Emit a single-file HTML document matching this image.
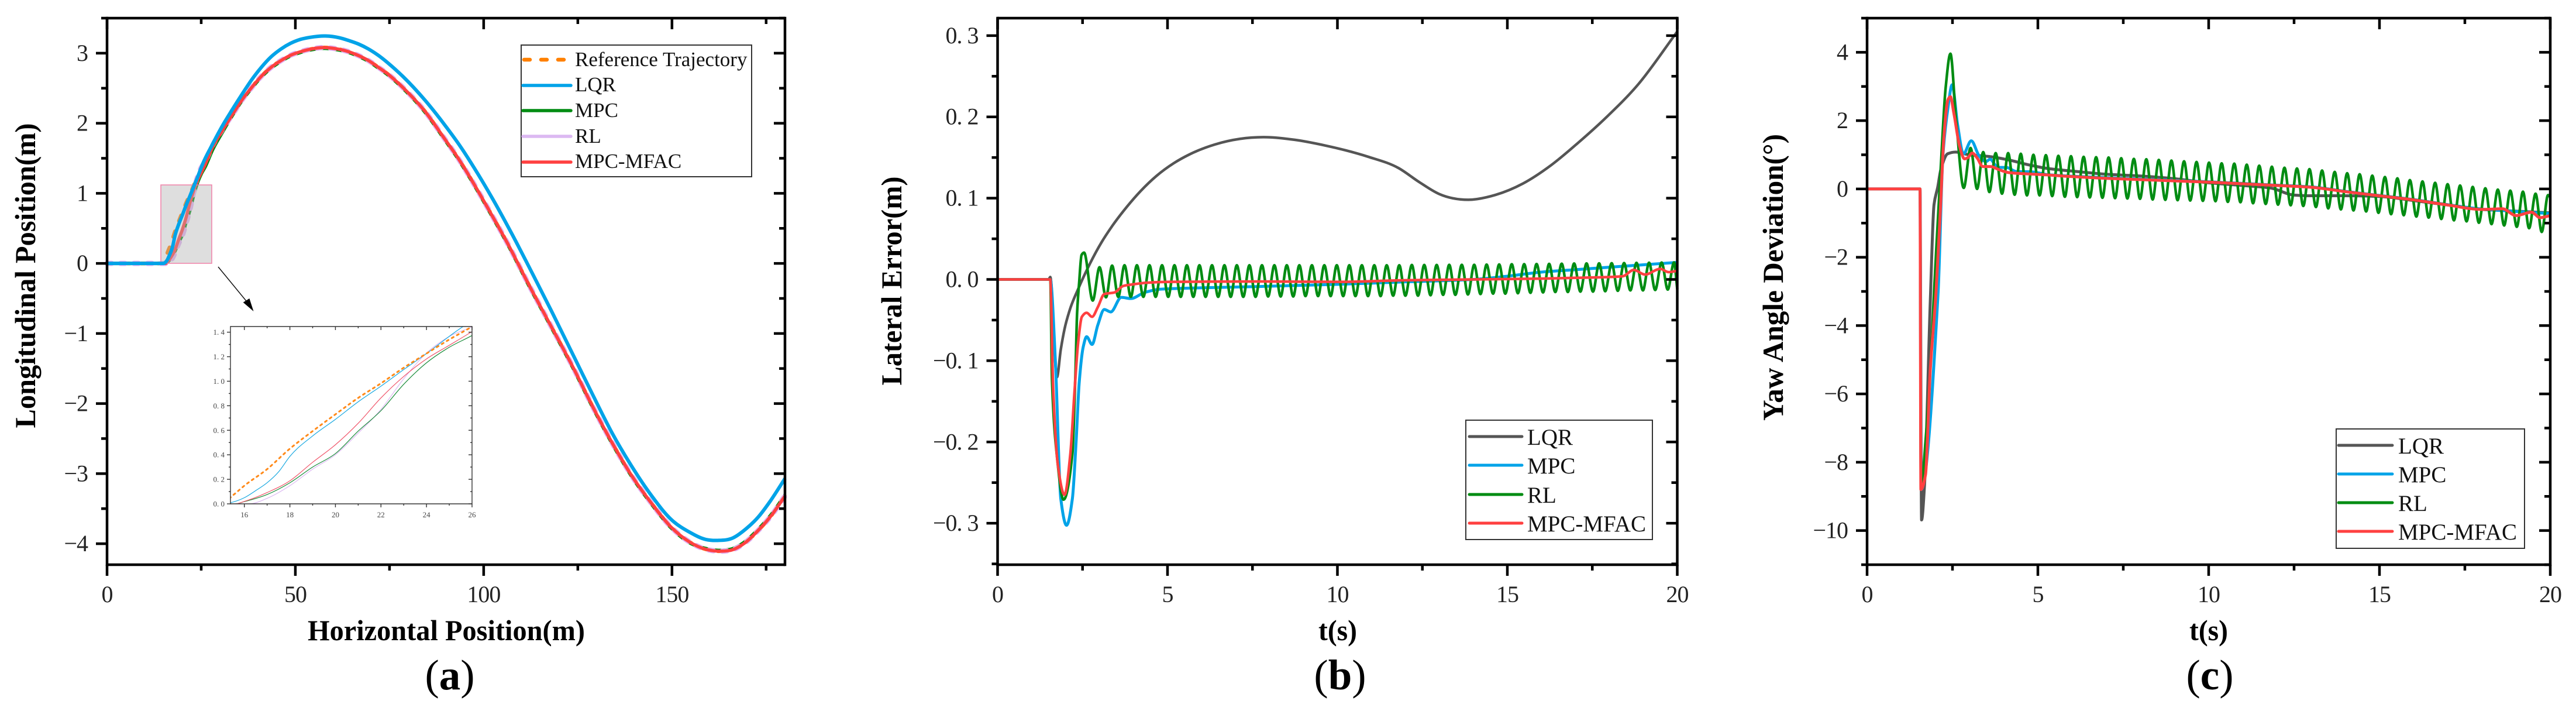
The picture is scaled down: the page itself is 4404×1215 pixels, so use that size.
<!DOCTYPE html>
<html lang="en">
<head>
<meta charset="utf-8">
<title>Trajectory tracking comparison</title>
<style>
html,body{margin:0;padding:0;background:#fff;width:4404px;height:1215px;overflow:hidden;}
svg{display:block;overflow:hidden;position:absolute;left:0;top:0;}
text{font-family:"Liberation Serif",serif;fill:#1a1a1a;}
.title{font-weight:bold;font-size:50px;fill:#000;}
.tick{font-size:40px;fill:#222;letter-spacing:-1px;}
.legend{font-size:35px;fill:#111;}
.legend2{font-size:39px;fill:#111;}
.cap{font-size:73px;fill:#000;}
.inset-tick{font-size:13px;fill:#444;}
</style>
</head>
<body>
<svg id="figure" xmlns="http://www.w3.org/2000/svg" width="4404" height="1215" viewBox="0 0 4404 1215">
  <defs>
    <clipPath id="inset-clip"><rect x="394" y="558" width="413" height="303"/></clipPath>
  </defs>

  <g id="panel-a">
    <g id="a-series"></g>
    <rect x="275" y="316" width="87" height="134" fill="#b0b0b0" fill-opacity="0.42" stroke="#f080a8" stroke-width="1.5"/>
    <g id="a-series-top"></g>
    <g id="a-axes"></g>
    <line x1="373" y1="456" x2="424" y2="518" stroke="#111" stroke-width="1.5"/>
    <polygon points="433.5,532 415.7,516.7 426.4,510" fill="#000"/>
    <g id="inset">
      <rect x="394" y="558" width="413" height="303" fill="#fff"/>
      <g id="inset-series" clip-path="url(#inset-clip)"></g>
      <g id="inset-axes"></g>
    </g>
    <text class="title" x="763" y="1094" text-anchor="middle" textLength="474" lengthAdjust="spacingAndGlyphs">Horizontal Position(m)</text>
    <text class="title" transform="translate(60,471) rotate(-90)" text-anchor="middle" textLength="521" lengthAdjust="spacingAndGlyphs">Longitudinal Position(m)</text>
    <g>
      <rect x="891" y="77" width="394" height="225" fill="#fff" stroke="#333" stroke-width="2"/>
      <line x1="896" y1="102" x2="968" y2="102" stroke="#ff8000" stroke-width="6.5" stroke-linecap="round" stroke-dasharray="10 19"/>
      <text class="legend" x="983" y="113">Reference Trajectory</text>
      <line x1="894" y1="146" x2="976" y2="146" stroke="#00a3e8" stroke-width="5.5" stroke-linecap="round"/>
      <text class="legend" x="983" y="156">LQR</text>
      <line x1="894" y1="189" x2="976" y2="189" stroke="#008c12" stroke-width="5.5" stroke-linecap="round"/>
      <text class="legend" x="983" y="200">MPC</text>
      <line x1="894" y1="233" x2="976" y2="233" stroke="#dcb8f2" stroke-width="5.5" stroke-linecap="round"/>
      <text class="legend" x="983" y="244">RL</text>
      <line x1="894" y1="277" x2="976" y2="277" stroke="#ff4040" stroke-width="5.5" stroke-linecap="round"/>
      <text class="legend" x="983" y="287">MPC-MFAC</text>
    </g>
    <text class="cap" x="769" y="1178" text-anchor="middle">(<tspan font-weight="bold">a</tspan>)</text>
  </g>

  <g id="panel-b">
    <g id="b-series"></g>
    <g id="b-axes"></g>
    <text class="title" x="2287" y="1094" text-anchor="middle" textLength="66" lengthAdjust="spacingAndGlyphs">t(s)</text>
    <text class="title" transform="translate(1541,480) rotate(-90)" text-anchor="middle" textLength="357" lengthAdjust="spacingAndGlyphs">Lateral Error(m)</text>
    <g>
      <rect x="2506" y="718" width="319" height="204" fill="#fff" stroke="#333" stroke-width="2"/>
      <line x1="2512" y1="746" x2="2602" y2="746" stroke="#555" stroke-width="5" stroke-linecap="round"/>
      <text class="legend2" x="2611" y="760">LQR</text>
      <line x1="2512" y1="795" x2="2602" y2="795" stroke="#00a3e8" stroke-width="5" stroke-linecap="round"/>
      <text class="legend2" x="2611" y="809">MPC</text>
      <line x1="2512" y1="845" x2="2602" y2="845" stroke="#008c12" stroke-width="5" stroke-linecap="round"/>
      <text class="legend2" x="2611" y="859">RL</text>
      <line x1="2512" y1="894" x2="2602" y2="894" stroke="#ff4040" stroke-width="5" stroke-linecap="round"/>
      <text class="legend2" x="2611" y="908">MPC-MFAC</text>
    </g>
    <text class="cap" x="2291" y="1178" text-anchor="middle">(<tspan font-weight="bold">b</tspan>)</text>
  </g>

  <g id="panel-c">
    <g id="c-series"></g>
    <g id="c-axes"></g>
    <text class="title" x="3776" y="1094" text-anchor="middle" textLength="66" lengthAdjust="spacingAndGlyphs">t(s)</text>
    <text class="title" transform="translate(3048,474) rotate(-90)" text-anchor="middle" textLength="490" lengthAdjust="spacingAndGlyphs">Yaw Angle Deviation(°)</text>
    <g>
      <rect x="3994" y="733" width="322" height="204" fill="#fff" stroke="#333" stroke-width="2"/>
      <line x1="3998" y1="761" x2="4090" y2="761" stroke="#555" stroke-width="5" stroke-linecap="round"/>
      <text class="legend2" x="4100" y="775">LQR</text>
      <line x1="3998" y1="810" x2="4090" y2="810" stroke="#00a3e8" stroke-width="5" stroke-linecap="round"/>
      <text class="legend2" x="4100" y="824">MPC</text>
      <line x1="3998" y1="859" x2="4090" y2="859" stroke="#008c12" stroke-width="5" stroke-linecap="round"/>
      <text class="legend2" x="4100" y="873">RL</text>
      <line x1="3998" y1="908" x2="4090" y2="908" stroke="#ff4040" stroke-width="5" stroke-linecap="round"/>
      <text class="legend2" x="4100" y="922">MPC-MFAC</text>
    </g>
    <text class="cap" x="3778" y="1178" text-anchor="middle">(<tspan font-weight="bold">c</tspan>)</text>
  </g>
</svg>

<script>
/* ---------- Panel (a): trajectory values ---------- */
const refX = [0,15,15.5,16,17,18,19,20,21,22,23,24,25,26,28,30.6,33.2,35.8,38.4,41,43.6,46.2,48.7,51.3,53.9,57.5,60.6,64.2,66.8,69.4,72,74.6,79.3,84.4,89.6,93.2,96.4,101.5,106.7,112,117,123.8,129,134.1,139.3,144.5,149.7,154.8,159,162,165.2,168.8,172.9,176.5,180];
const refY = [0,0,0.07,0.148,0.283,0.45,0.593,0.73,0.864,0.983,1.11,1.226,1.34,1.445,1.68,1.91,2.115,2.33,2.51,2.672,2.8,2.895,2.97,3.02,3.056,3.08,3.065,3.02,2.965,2.895,2.8,2.7,2.47,2.17,1.78,1.503,1.225,0.752,0.25,-0.306,-0.807,-1.49,-2.05,-2.56,-3.03,-3.42,-3.76,-3.98,-4.08,-4.106,-4.098,-4.01,-3.81,-3.59,-3.32];
const lqrAX = [0,15,15.4,16,16.5,17,17.5,18,19,20,21,22,23,24,25.4,28,30.6,33.2,35.8,38.4,41,43.6,46.2,48.7,51.3,53.9,58,61.7,64.2,66.8,69.4,72,74.6,78.7,84.4,89.6,93.8,97.4,102.5,107.7,112.9,118.1,124.6,129,134.1,139.3,144.5,149.7,154.8,159,162.2,166.1,169.7,172.9,176,180];
const lqrAY = [0,0,0.01,0.05,0.108,0.172,0.26,0.387,0.554,0.689,0.832,0.96,1.095,1.226,1.42,1.7,1.96,2.19,2.41,2.62,2.8,2.95,3.06,3.14,3.196,3.226,3.245,3.22,3.18,3.13,3.06,2.97,2.86,2.66,2.33,1.98,1.67,1.37,0.91,0.4,-0.14,-0.69,-1.4,-1.88,-2.42,-2.895,-3.31,-3.65,-3.84,-3.94,-3.953,-3.92,-3.786,-3.62,-3.4,-3.07];
const mpcAX = [0,15.6,16,17,18,19,20,21,22,23,24,25,26,28,30.6,33.2,35.8,38.4,41,43.6,46.2,48.7,51.3,53.9,57.5,60.6,64.2,66.8,69.4,72,74.6,79.3,84.4,89.6,93.2,96.4,101.5,106.7,112,117,123.8,129,134.1,139.3,144.5,149.7,154.8,159,162,165.2,168.8,172.9,176.5,180];
const mpcAY = [0,0,0.018,0.076,0.172,0.3,0.41,0.593,0.76,0.975,1.15,1.277,1.373,1.62,1.87,2.105,2.32,2.5,2.662,2.79,2.885,2.96,3.01,3.046,3.07,3.055,3.01,2.955,2.885,2.79,2.69,2.46,2.16,1.77,1.493,1.215,0.742,0.24,-0.316,-0.817,-1.5,-2.06,-2.57,-3.04,-3.43,-3.77,-3.99,-4.07,-4.095,-4.085,-3.995,-3.795,-3.575,-3.305];
const rlAX = [0,16.2,17,18,19,20,21,22,23,24,25,26,28,30.6,33.2,35.8,38.4,41,43.6,46.2,48.7,51.3,53.9,57.5,60.6,64.2,66.8,69.4,72,74.6,79.3,84.4,89.6,93.2,96.4,101.5,106.7,112,117,123.8,129,134.1,139.3,144.5,149.7,154.8,159,162,165.2,168.8,172.9,176.5,180];
const rlAY = [0,0,0.045,0.148,0.283,0.4,0.577,0.77,1.02,1.23,1.365,1.445,1.68,1.91,2.115,2.33,2.51,2.672,2.8,2.895,2.97,3.02,3.056,3.08,3.065,3.02,2.965,2.895,2.8,2.7,2.47,2.17,1.78,1.503,1.225,0.752,0.25,-0.306,-0.807,-1.49,-2.05,-2.56,-3.03,-3.42,-3.76,-3.98,-4.08,-4.106,-4.098,-4.01,-3.81,-3.59,-3.32];
const mfacAX = [0,15.6,16,17,18,19,20,21,22,23,24,25,26,28,30.6,33.2,35.8,38.4,41,43.6,46.2,48.7,51.3,53.9,57.5,60.6,64.2,66.8,69.4,72,74.6,79.3,84.4,89.6,93.2,96.4,101.5,106.7,112,117,123.8,129,134.1,139.3,144.5,149.7,154.8,159,162,165.2,168.8,172.9,176.5,180];
const mfacAY = [0,0,0.02,0.092,0.188,0.339,0.482,0.657,0.864,1.039,1.182,1.293,1.405,1.656,1.893,2.115,2.33,2.51,2.672,2.8,2.895,2.97,3.02,3.056,3.08,3.065,3.02,2.965,2.895,2.8,2.7,2.47,2.17,1.78,1.503,1.225,0.752,0.25,-0.306,-0.807,-1.49,-2.05,-2.56,-3.03,-3.42,-3.76,-3.98,-4.08,-4.106,-4.098,-4.01,-3.81,-3.59,-3.32];

/* ---------- Panel (b): lateral error values ---------- */
const lqrBT = [0,1.5,1.55,1.74,1.86,1.97,2.12,2.372,2.717,3.06,3.347,3.807,4.208,4.668,5.184,5.757,6.389,7.134,7.938,8.74,9.66,10.23,10.9,11.8,12.4,13,13.85,14.65,15.46,16.27,17.08,17.9,18.85,20];
const lqrBV = [0,0,0.003,-0.12,-0.086,-0.061,-0.038,-0.0117,0.0194,0.0458,0.0642,0.0895,0.1087,0.1271,0.143,0.156,0.166,0.173,0.175,0.1718,0.1646,0.159,0.151,0.137,0.12,0.105,0.098,0.104,0.118,0.14,0.168,0.199,0.24,0.305];
const mpcBT = [0,1.55,1.7,1.86,2.03,2.2,2.31,2.4,2.52,2.62,2.78,2.95,3.14,3.33,3.64,3.92,4.33,4.79,5.36,7.7,10,12,14,15,16,17,18,19,20];
const mpcBV = [0,0,-0.1,-0.27,-0.3025,-0.27,-0.2,-0.128,-0.083,-0.0705,-0.08,-0.056,-0.037,-0.04,-0.022,-0.0235,-0.016,-0.012,-0.011,-0.0087,-0.006,-0.003,0,0.004,0.009,0.012,0.015,0.018,0.021];
const rlBT = [0,1.55,1.6,1.74,1.94,2.2,2.29,2.34,2.4,2.47,2.545,2.8,
  3.00,3.19,3.37,3.55,3.735,3.92,4.10,4.29,4.47,4.65,
  4.84,5.02,5.205,5.39,5.57,5.76,5.94,6.12,6.31,6.49,
  6.675,6.86,7.04,7.23,7.41,7.59,7.78,7.96,8.145,8.33,
  8.51,8.70,8.88,9.06,9.25,9.43,9.615,9.80,9.98,10.17,
  10.35,10.53,10.72,10.90,11.085,11.27,11.45,11.64,11.82,12.00,
  12.19,12.37,12.555,12.74,12.92,13.11,13.29,13.47,13.66,13.84,
  14.025,14.21,14.39,14.58,14.76,14.94,15.13,15.31,15.495,15.68,
  15.86,16.05,16.23,16.41,16.60,16.78,16.965,17.15,17.33,17.52,
  17.70,17.88,18.07,18.25,18.435,18.62,18.80,18.99,19.17,19.35,
  19.54,19.72,19.905,20];
const rlBV = [0,0,-0.123,-0.215,-0.271,-0.215,-0.116,-0.041,-0.004,0.03,0.033,-0.026,
  0.015,-0.022,0.017,-0.0215,0.0175,-0.0215,0.0175,-0.0215,0.0175,-0.0215,
  0.0175,-0.0215,0.0175,-0.0215,0.0175,-0.0215,0.0175,-0.0215,0.0175,-0.0215,
  0.0175,-0.0215,0.0175,-0.0215,0.0175,-0.0215,0.0175,-0.021,0.0175,-0.021,
  0.0175,-0.021,0.0175,-0.0205,0.0175,-0.0205,0.0175,-0.0205,0.0175,-0.0205,
  0.0175,-0.0205,0.0175,-0.0205,0.0175,-0.0205,0.0175,-0.02,0.0175,-0.02,
  0.0178,-0.02,0.0178,-0.0195,0.0178,-0.019,0.018,-0.019,0.018,-0.0185,
  0.018,-0.018,0.0183,-0.0175,0.0185,-0.0175,0.0187,-0.017,0.0188,-0.0165,
  0.019,-0.016,0.0192,-0.0155,0.0194,-0.0155,0.0196,-0.015,0.0197,-0.015,
  0.0198,-0.0145,0.02,-0.014,0.0202,-0.0135,0.0204,-0.0135,0.0206,-0.013,
  0.0208,-0.0125,0.021,-0.012];
const mfacBT = [0,1.55,1.63,1.77,1.97,2.14,2.26,2.37,2.48,2.62,2.78,2.95,3.14,3.44,3.7,3.87,4.4,5.1,7.7,10,12,14,16,17,18,18.4,18.72,19.05,19.5,19.74,20];
const mfacBV = [0,0,-0.128,-0.227,-0.265,-0.215,-0.14,-0.078,-0.046,-0.041,-0.046,-0.034,-0.018,-0.016,-0.008,-0.0067,-0.004,-0.003,-0.0025,-0.003,-0.001,0,0.001,0.002,0.003,0.004,0.0117,0.006,0.013,0.009,0.0106];

/* ---------- Panel (c): yaw deviation values ---------- */
const lqrCT = [0,1.55,1.595,1.68,1.85,1.96,2.07,2.16,2.36,2.59,2.99,3.56,4.14,4.71,5.28,6.14,7,8,9,10,11,11.8,12.5,13,14,15,16,17,18,19,20];
const lqrCV = [0,0,-9.69,-8.7,-3.3,-0.46,0.06,0.57,1.03,1.08,1,0.95,0.85,0.71,0.6,0.51,0.43,0.38,0.3,0.18,0.1,0.03,-0.18,-0.2,-0.2,-0.22,-0.34,-0.47,-0.6,-0.65,-0.7];
const mpcCT = [0,1.55,1.58,2.08,2.22,2.37,2.49,2.65,2.82,3.05,3.28,3.48,3.6,3.83,4.08,4.37,4.83,5.28,7,10,12,13,14,15,16,17,18,19,20];
const mpcCV = [0,0,-8.8,-3.02,0.97,2.39,3.05,1.88,1.03,1.41,0.97,0.8,0.87,0.63,0.63,0.51,0.5,0.42,0.33,0.21,0.11,0.06,-0.07,-0.19,-0.31,-0.46,-0.59,-0.66,-0.72];
const rlCT = [0,1.55,1.575,1.71,1.85,1.96,2.02,2.16,2.3,2.44,2.6,2.83,
  3.03,3.22,3.40,3.58,3.765,3.95,4.13,4.32,4.50,4.68,
  4.87,5.05,5.235,5.42,5.60,5.79,5.97,6.15,6.34,6.52,
  6.705,6.89,7.07,7.26,7.44,7.62,7.81,7.99,8.175,8.36,
  8.54,8.73,8.91,9.09,9.28,9.46,9.645,9.83,10.01,10.20,
  10.38,10.56,10.75,10.93,11.115,11.30,11.48,11.67,11.85,12.03,
  12.22,12.40,12.585,12.77,12.95,13.14,13.32,13.50,13.69,13.87,
  14.055,14.24,14.42,14.61,14.79,14.97,15.16,15.34,15.525,15.71,
  15.89,16.08,16.26,16.44,16.63,16.81,16.995,17.18,17.36,17.55,
  17.73,17.91,18.10,18.28,18.465,18.65,18.83,19.02,19.20,19.38,
  19.57,19.75,19.935,20];
const rlCV = [0,0,-8.8,-7.4,-5.3,-3.03,-1.88,0.68,2.96,3.96,2.1,0.03,
  1.2,0,1.08,-0.09,1.05,-0.14,1.05,-0.17,1.03,-0.19,
  1.0,-0.19,0.99,-0.21,0.97,-0.23,0.96,-0.24,0.94,-0.25,
  0.93,-0.26,0.92,-0.27,0.9,-0.28,0.88,-0.29,0.87,-0.31,
  0.85,-0.32,0.83,-0.33,0.81,-0.34,0.79,-0.35,0.77,-0.36,
  0.75,-0.38,0.74,-0.39,0.71,-0.42,0.68,-0.44,0.65,-0.46,
  0.62,-0.48,0.6,-0.5,0.58,-0.53,0.54,-0.57,0.5,-0.6,
  0.46,-0.63,0.43,-0.66,0.39,-0.7,0.35,-0.74,0.31,-0.77,
  0.26,-0.81,0.22,-0.84,0.18,-0.88,0.14,-0.92,0.1,-0.95,
  0.06,-0.99,0.02,-1.03,-0.02,-1.07,-0.05,-1.11,-0.08,-1.15,
  -0.14,-1.26,-0.18,-0.24];
const mfacCT = [0,1.55,1.575,1.71,1.85,2.02,2.14,2.25,2.37,2.44,2.54,2.71,2.85,2.94,3.08,3.22,3.39,3.62,3.85,4.14,4.71,5.28,5.85,7,10,12,13,14,15,16,17,18,18.6,19,19.45,19.7,20];
const mfacCV = [0,0,-8.8,-8.37,-5.3,-3,-0.74,1.54,2.62,2.7,2.22,1.25,0.88,0.91,1.05,0.91,0.655,0.655,0.57,0.48,0.44,0.41,0.37,0.31,0.2,0.1,0.05,-0.08,-0.2,-0.32,-0.47,-0.6,-0.58,-0.78,-0.68,-0.84,-0.78];

/* ---------- Tick values and labels ---------- */
const xMajorA = [0,50,100,150];
const xLabelsA = ['0','50','100','150'];
const xMinorA = [25,75,125,175];
const yMajorA = [-4,-3,-2,-1,0,1,2,3];
const yLabelsA = ['\u22124','\u22123','\u22122','\u22121','0','1','2','3'];
const yMinorA = [-3.5,-2.5,-1.5,-0.5,0.5,1.5,2.5,3.5];
const xMajorT = [0,5,10,15,20];
const xLabelsT = ['0','5','10','15','20'];
const xMinorT = [2.5,7.5,12.5,17.5];
const yMajorB = [-0.3,-0.2,-0.1,0,0.1,0.2,0.3];
const yLabelsB = ['\u22120. 3','\u22120. 2','\u22120. 1','0. 0','0. 1','0. 2','0. 3'];
const yMinorB = [-0.35,-0.25,-0.15,-0.05,0.05,0.15,0.25];
const yMajorC = [-10,-8,-6,-4,-2,0,2,4];
const yLabelsC = ['\u221210','\u22128','\u22126','\u22124','\u22122','0','2','4'];
const yMinorC = [-11,-9,-7,-5,-3,-1,1,3,5];
const xMajorI = [16,18,20,22,24,26];
const xLabelsI = ['16','18','20','22','24','26'];
const xMinorI = [17,19,21,23,25];
const yMajorI = [0,0.2,0.4,0.6,0.8,1,1.2,1.4];
const yLabelsI = ['0. 0','0. 2','0. 4','0. 6','0. 8','1. 0','1. 2','1. 4'];
const yMinorI = [0.1,0.3,0.5,0.7,0.9,1.1,1.3];

/* ---------- Drawing helpers ---------- */
const NS = 'http://www.w3.org/2000/svg';
function linear(d0, d1, r0, r1) {
  return function (v) { return r0 + (v - d0) * (r1 - r0) / (d1 - d0); };
}
function curvePath(xs, ys, sx, sy, smooth) {
  const px = xs.map(sx);
  const py = ys.map(sy);
  const n = px.length;
  const m = [];
  for (let i = 0; i < n - 1; i++) {
    m.push((py[i + 1] - py[i]) / (px[i + 1] - px[i]));
  }
  const t = [m[0]];
  for (let i = 1; i < n - 1; i++) {
    const h0 = px[i] - px[i - 1];
    const h1 = px[i + 1] - px[i];
    const a = m[i - 1];
    const b = m[i];
    if (smooth) {
      if (a === 0 || b === 0) {
        t.push(0);
      } else if (a * b < 0 && (Math.abs(a) > 4 * Math.abs(b) || Math.abs(b) > 4 * Math.abs(a))) {
        t.push(0);
      } else {
        let c = (a * h1 + b * h0) / (h0 + h1);
        if (a * b > 0) {
          const lim = 3 * Math.min(Math.abs(a), Math.abs(b));
          if (Math.abs(c) > lim) { c = c > 0 ? lim : -lim; }
        }
        t.push(c);
      }
    } else if (a * b <= 0) {
      t.push(0);
    } else {
      t.push(3 * (h0 + h1) / ((2 * h1 + h0) / a + (h1 + 2 * h0) / b));
    }
  }
  t.push(m[n - 2]);
  let d = 'M' + px[0].toFixed(2) + ' ' + py[0].toFixed(2);
  for (let i = 0; i < n - 1; i++) {
    const h = (px[i + 1] - px[i]) / 3;
    d += 'C' + (px[i] + h).toFixed(2) + ' ' + (py[i] + t[i] * h).toFixed(2) + ' ' +
      (px[i + 1] - h).toFixed(2) + ' ' + (py[i + 1] - t[i + 1] * h).toFixed(2) + ' ' +
      px[i + 1].toFixed(2) + ' ' + py[i + 1].toFixed(2);
  }
  return d;
}
function drawSeries(parent, name, xs, ys, sx, sy, color, width, dash, smooth) {
  const el = document.createElementNS(NS, 'path');
  
  
  el.setAttribute('d', curvePath(xs, ys, sx, sy, smooth));
  el.setAttribute('fill', 'none');
  el.setAttribute('stroke', color);
  el.setAttribute('stroke-width', width);
  el.setAttribute('stroke-linejoin', 'round');
  if (dash) {
    el.setAttribute('stroke-dasharray', dash);
    el.setAttribute('stroke-linecap', 'round');
  }
  parent.appendChild(el);
}
function drawLine(parent, name, x1, y1, x2, y2, color, width) {
  const el = document.createElementNS(NS, 'line');
  
  
  el.setAttribute('x1', x1);
  el.setAttribute('y1', y1);
  el.setAttribute('x2', x2);
  el.setAttribute('y2', y2);
  el.setAttribute('stroke', color);
  el.setAttribute('stroke-width', width);
  parent.appendChild(el);
}
function drawLabel(parent, name, x, y, anchor, cls, str) {
  const el = document.createElementNS(NS, 'text');
  
  
  el.setAttribute('x', x);
  el.setAttribute('y', y);
  el.setAttribute('text-anchor', anchor);
  el.setAttribute('class', cls);
  el.textContent = str;
  parent.appendChild(el);
}
function drawAxes(g, box, sx, sy, xMajor, xLabels, xMinor, yMajor, yLabels, yMinor, st) {
  const c = st.color;
  const w = st.width;
  drawLine(g, 'axis-left', box.l, box.t - w / 2, box.l, box.b + w / 2, c, w);
  drawLine(g, 'axis-right', box.r, box.t - w / 2, box.r, box.b + w / 2, c, w);
  drawLine(g, 'axis-top', box.l, box.t, box.r, box.t, c, w);
  drawLine(g, 'axis-bottom', box.l, box.b, box.r, box.b, c, w);
  xMajor.forEach(function (v, i) {
    const x = sx(v);
    drawLine(g, 'x-tick-major', x, box.b, x, box.b + st.major, c, w);
    drawLine(g, 'x-tick-major-top', x, box.t, x, box.t + st.major, c, w);
    drawLabel(g, 'x-tick-label', x, st.xBase, 'middle', st.cls, xLabels[i]);
  });
  xMinor.forEach(function (v) {
    const x = sx(v);
    drawLine(g, 'x-tick-minor', x, box.b, x, box.b + st.minor, c, w);
    drawLine(g, 'x-tick-minor-top', x, box.t, x, box.t + st.minor, c, w);
  });
  yMajor.forEach(function (v, i) {
    const y = sy(v);
    drawLine(g, 'y-tick-major', box.l - st.major, y, box.l, y, c, w);
    drawLine(g, 'y-tick-major-right', box.r - st.major, y, box.r, y, c, w);
    drawLabel(g, 'y-tick-label', box.l - st.gap, y + st.yShift, 'end', st.cls, yLabels[i]);
  });
  yMinor.forEach(function (v) {
    const y = sy(v);
    drawLine(g, 'y-tick-minor', box.l - st.minor, y, box.l, y, c, w);
    drawLine(g, 'y-tick-minor-right', box.r - st.minor, y, box.r, y, c, w);
  });
}

const mainStyle = { color: '#000', width: 4.5, major: 19, minor: 10, gap: 33, yShift: 13, xBase: 1029, cls: 'tick' };
const insetStyle = { color: '#333', width: 1.4, major: 6, minor: 3, gap: 10, yShift: 4.5, xBase: 884, cls: 'inset-tick' };

/* Panel (a) */
const boxA = { l: 183, r: 1342, t: 31, b: 965 };
const sxA = linear(0, 180, boxA.l, boxA.r);
const syA = linear(3.5, -4.3, boxA.t, boxA.b);
const gA = document.getElementById('a-series');
const gATop = document.getElementById('a-series-top');
drawSeries(gA, 'series-reference', refX, refY, sxA, syA, '#ff8000', 6.5, '10 19', true);
drawSeries(gA, 'series-mpc', mpcAX, mpcAY, sxA, syA, '#008c12', 6, null, true);
drawSeries(gA, 'series-rl', rlAX, rlAY, sxA, syA, '#e0b0f0', 9, '8 15', true);
drawSeries(gA, 'series-mpc-mfac', mfacAX, mfacAY, sxA, syA, '#ff4040', 5.5, null, true);
drawSeries(gATop, 'series-lqr', lqrAX, lqrAY, sxA, syA, '#00a3e8', 6, null, true);
drawAxes(document.getElementById('a-axes'), boxA, sxA, syA, xMajorA, xLabelsA, xMinorA, yMajorA, yLabelsA, yMinorA, mainStyle);

/* Inset */
const boxI = { l: 394, r: 807, t: 558, b: 861 };
const sxI = linear(15.39, 26, boxI.l, boxI.r);
const syI = linear(1.446, 0, boxI.t, boxI.b);
const gI = document.getElementById('inset-series');
drawSeries(gI, 'inset-series-rl', rlAX, rlAY, sxI, syI, '#dcb8f2', 1.2, null, true);
drawSeries(gI, 'inset-series-lqr', lqrAX, lqrAY, sxI, syI, '#18a8e0', 1.2, null, true);
drawSeries(gI, 'inset-series-mpc', mpcAX, mpcAY, sxI, syI, '#1a8c3a', 1.2, null, true);
drawSeries(gI, 'inset-series-mpc-mfac', mfacAX, mfacAY, sxI, syI, '#f0556a', 1.2, null, true);
drawSeries(gI, 'inset-series-reference', refX, refY, sxI, syI, '#ff8a1a', 3, '3.5 6.5', true);
drawAxes(document.getElementById('inset-axes'), boxI, sxI, syI, xMajorI, xLabelsI, xMinorI, yMajorI, yLabelsI, yMinorI, insetStyle);

/* Panel (b) */
const boxB = { l: 1705.5, r: 2867.5, t: 31, b: 965 };
const sxB = linear(0, 20, boxB.l, boxB.r);
const syB = linear(0.3215, -0.351, boxB.t, boxB.b);
const gB = document.getElementById('b-series');
drawSeries(gB, 'series-lqr', lqrBT, lqrBV, sxB, syB, '#555555', 4.5, null, true);
drawSeries(gB, 'series-mpc', mpcBT, mpcBV, sxB, syB, '#00a3e8', 5);
drawSeries(gB, 'series-rl', rlBT, rlBV, sxB, syB, '#008c12', 4.5);
drawSeries(gB, 'series-mpc-mfac', mfacBT, mfacBV, sxB, syB, '#ff4040', 4.5);
drawAxes(document.getElementById('b-axes'), boxB, sxB, syB, xMajorT, xLabelsT, xMinorT, yMajorB, yLabelsB, yMinorB, mainStyle);

/* Panel (c) */
const boxC = { l: 3192, r: 4360, t: 31, b: 965 };
const sxC = linear(0, 20, boxC.l, boxC.r);
const syC = linear(5, -11, boxC.t, boxC.b);
const gC = document.getElementById('c-series');
drawSeries(gC, 'series-lqr', lqrCT, lqrCV, sxC, syC, '#555555', 5);
drawSeries(gC, 'series-mpc', mpcCT, mpcCV, sxC, syC, '#00a3e8', 5);
drawSeries(gC, 'series-rl', rlCT, rlCV, sxC, syC, '#008c12', 4.5);
drawSeries(gC, 'series-mpc-mfac', mfacCT, mfacCV, sxC, syC, '#ff4040', 5);
drawAxes(document.getElementById('c-axes'), boxC, sxC, syC, xMajorT, xLabelsT, xMinorT, yMajorC, yLabelsC, yMinorC, mainStyle);
</script>
</body>
</html>
